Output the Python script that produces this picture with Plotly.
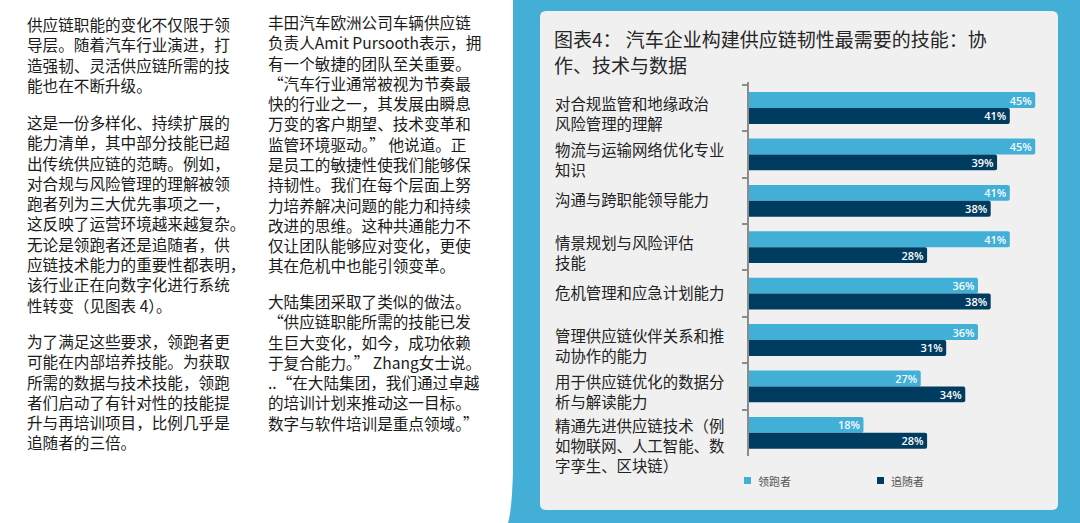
import plotly.graph_objects as go

W, H = 1080, 523

# ---------------- data ----------------
categories = [
    "对合规监管和地缘政治\n风险管理的理解",
    "物流与运输网络优化专业\n知识",
    "沟通与跨职能领导能力",
    "情景规划与风险评估\n技能",
    "危机管理和应急计划能力",
    "管理供应链伙伴关系和推\n动协作的能力",
    "用于供应链优化的数据分\n析与解读能力",
    "精通先进供应链技术（例\n如物联网、人工智能、数\n字孪生、区块链）",
]
leaders = [45, 45, 41, 41, 36, 36, 27, 18]
followers = [41, 39, 38, 28, 38, 31, 34, 28]
series_names = ["领跑者", "追随者"]

title_lines = ["图表4： 汽车企业构建供应链韧性最需要的技能：协", "作、技术与数据"]

col1_lines = [
    "供应链职能的变化不仅限于领",
    "导层。随着汽车行业演进，打",
    "造强韧、灵活供应链所需的技",
    "能也在不断升级。",
    "",
    "这是一份多样化、持续扩展的",
    "能力清单，其中部分技能已超",
    "出传统供应链的范畴。例如，",
    "对合规与风险管理的理解被领",
    "跑者列为三大优先事项之一，",
    "这反映了运营环境越来越复杂。",
    "无论是领跑者还是追随者，供",
    "应链技术能力的重要性都表明，",
    "该行业正在向数字化进行系统",
    "性转变（见图表 4）。",
    "",
    "为了满足这些要求，领跑者更",
    "可能在内部培养技能。为获取",
    "所需的数据与技术技能，领跑",
    "者们启动了有针对性的技能提",
    "升与再培训项目，比例几乎是",
    "追随者的三倍。",
]
col2_lines = [
    "丰田汽车欧洲公司车辆供应链",
    "负责人Amit Pursooth表示，拥",
    "有一个敏捷的团队至关重要。",
    "“汽车行业通常被视为节奏最",
    "快的行业之一，其发展由瞬息",
    "万变的客户期望、技术变革和",
    "监管环境驱动。” 他说道。正",
    "是员工的敏捷性使我们能够保",
    "持韧性。我们在每个层面上努",
    "力培养解决问题的能力和持续",
    "改进的思维。这种共通能力不",
    "仅让团队能够应对变化，更使",
    "其在危机中也能引领变革。",
    "",
    "大陆集团采取了类似的做法。",
    "“供应链职能所需的技能已发",
    "生巨大变化，如今，成功依赖",
    "于复合能力。” Zhang女士说。",
    "..“在大陆集团，我们通过卓越",
    "的培训计划来推动这一目标。",
    "数字与软件培训是重点领域。”",
]

# ---------------- styles ----------------
C_LEAD = "#42afd7"
C_FOLL = "#003c5f"
C_BG_BLUE = "#43afd6"
C_PANEL = "#f0f0f0"
CJK = "Noto Sans CJK SC"


def px(x):
    return x / W


def py(y):
    return 1 - y / H


def pt(x, y):
    return f"{px(x):.5f},{py(y):.5f}"


fig = go.Figure()
fig.add_trace(go.Bar(
    name=series_names[0], y=categories, x=leaders, orientation="h",
    marker=dict(color=C_LEAD, cornerradius=2, line=dict(width=0)),
    texttemplate="%{x}%", textposition="inside", insidetextanchor="end",
    constraintext="none",
    textfont=dict(family="Open Sans", size=11, color="#f4fafd", weight=600),
    hoverinfo="skip",
))
fig.add_trace(go.Bar(
    name=series_names[1], y=categories, x=followers, orientation="h",
    marker=dict(color=C_FOLL, cornerradius=2, line=dict(width=0)),
    texttemplate="%{x}%", textposition="inside", insidetextanchor="end",
    constraintext="none",
    textfont=dict(family="Open Sans", size=11, color="#ffffff", weight=600),
    hoverinfo="skip",
))

shapes = []
# blue background block with slightly curved left edge
shapes.append(dict(
    type="path", xref="paper", yref="paper", layer="below",
    path=f"M {pt(513,0)} L {pt(513,470)} Q {pt(512,510)} {pt(508,523)} L {pt(1080,523)} L {pt(1080,0)} Z",
    fillcolor=C_BG_BLUE, line=dict(width=0),
))
# rounded light panel
x0, x1, y0, y1, r = 540, 1058, 11, 510, 6
shapes.append(dict(
    type="path", xref="paper", yref="paper", layer="below",
    path=(f"M {pt(x0+r,y0)} L {pt(x1-r,y0)} Q {pt(x1,y0)} {pt(x1,y0+r)} "
          f"L {pt(x1,y1-r)} Q {pt(x1,y1)} {pt(x1-r,y1)} L {pt(x0+r,y1)} "
          f"Q {pt(x0,y1)} {pt(x0,y1-r)} L {pt(x0,y0+r)} Q {pt(x0,y0)} {pt(x0+r,y0)} Z"),
    fillcolor=C_PANEL, line=dict(width=0),
))
# legend squares
for lx, col in [(744, C_LEAD), (877, C_FOLL)]:
    shapes.append(dict(type="rect", xref="paper", yref="paper",
                       x0=px(lx), x1=px(lx + 7), y0=py(484), y1=py(477),
                       fillcolor=col, line=dict(width=0)))

annotations = []


def paragraphs(lines):
    out, cur, start = [], [], 0
    for i, t in enumerate(lines + [""]):
        if t:
            if not cur:
                start = i
            cur.append(t)
        elif cur:
            out.append((start, cur))
            cur = []
    return out


# left-page text columns, one text block per paragraph
LINE = 19.8
for col_x, lines in [(27, col1_lines), (268, col2_lines)]:
    for start, para in paragraphs(lines):
        yc = 25 + (start + (len(para) - 1) / 2) * LINE
        annotations.append(dict(
            text="<br>".join(para), x=px(col_x), y=py(yc), xref="paper", yref="paper",
            xanchor="left", yanchor="middle", align="left", showarrow=False,
            borderpad=0, borderwidth=0, font=dict(family=CJK, size=15.6, color="#1a1a1a"),
        ))
# chart title (one text per line)
TITLE_GAP = 25.6
for i, t in enumerate(title_lines):
    annotations.append(dict(
        text=t, x=px(554), y=py(51.7 + (i - 0.5) * TITLE_GAP), xref="paper", yref="paper",
        xanchor="left", yanchor="middle", align="left", showarrow=False,
        borderpad=0, borderwidth=0,
        font=dict(family=CJK, size=19, color="#262626"),
    ))
# category labels (left aligned)
block_off = {1: -2, 2: 5, 3: 12}
for cat in categories:
    parts = cat.split("\n")
    annotations.append(dict(
        text="<br>".join(parts), x=px(555), y=cat, xref="paper", yref="y",
        xanchor="left", yanchor="middle", align="left", showarrow=False,
        borderpad=0, borderwidth=0, yshift=-block_off[len(parts)],
        font=dict(family=CJK, size=15.4, color="#222222"),
    ))
# legend texts
for lx, name in [(756, series_names[0]), (889, series_names[1])]:
    annotations.append(dict(
        text=name, x=px(lx), y=py(481), xref="paper", yref="paper",
        xanchor="left", yanchor="middle", showarrow=False,
        font=dict(family=CJK, size=11, color="#555555"),
    ))

fig.update_layout(
    width=W, height=H, margin=dict(l=0, r=0, t=0, b=0),
    paper_bgcolor="#ffffff", plot_bgcolor="rgba(0,0,0,0)",
    barmode="group", bargap=0.315, bargroupgap=0,
    showlegend=False,
    xaxis=dict(domain=[px(749), px(1058)], range=[0, 48.58], visible=False, fixedrange=True),
    yaxis=dict(domain=[py(456), py(82)], type="category", autorange="reversed",
               showline=True, linecolor="#8c8c8c", linewidth=1.5,
               ticks="outside", tickson="boundaries", ticklen=5, tickwidth=1.5,
               tickcolor="#8c8c8c", showticklabels=False, showgrid=False,
               zeroline=False, fixedrange=True),
    shapes=shapes, annotations=annotations,
)

fig.write_html("out.html", config={"displayModeBar": False},
               post_script="document.body.style.margin='0';document.body.style.overflow='hidden';")
